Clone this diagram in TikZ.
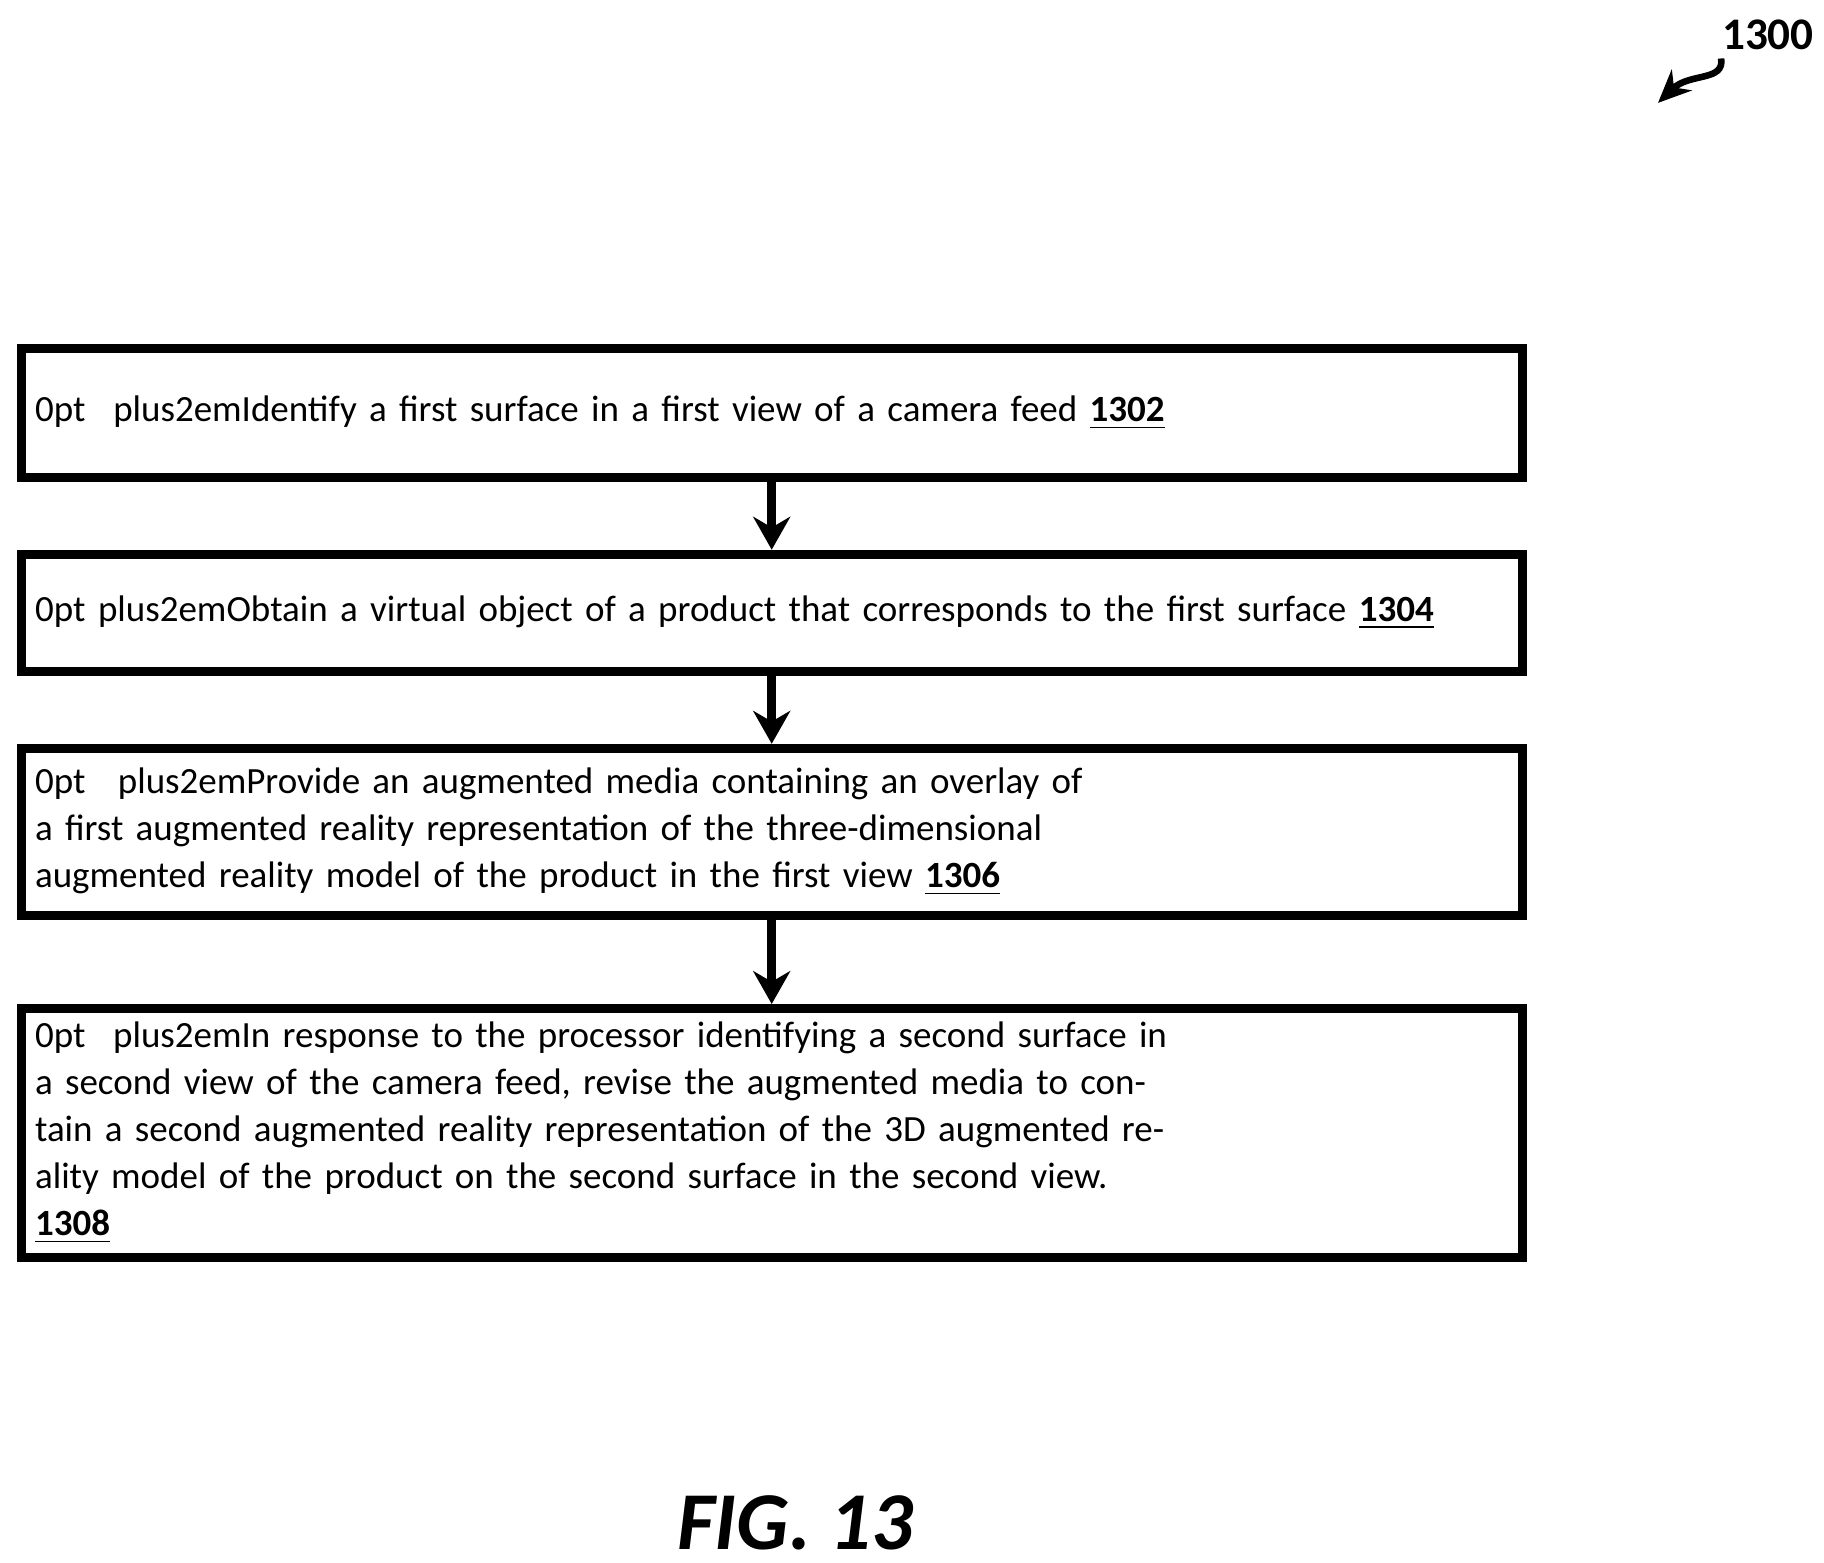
\documentclass[tikz,border=0pt]{standalone}
\usepackage{fontspec}
\setmainfont{Carlito}
\usetikzlibrary{arrows.meta,positioning}
\tikzset{stepbox/.style={draw, line width=2.2pt, minimum width=12.8cm, align=center, text width=12.6cm, font=\fontsize{9}{11.4}\selectfont\hyphenpenalty=10000\spaceskip=0.22em plus 0.1em minus 0.05em},
arrow/.style={line width=2.2pt,-{Stealth[length=8pt,width=9pt]}}}
\begin{document}
\begin{tikzpicture}
\useasboundingbox (0,0) rectangle (15.6,-13.36);
% steps
\node[stepbox, minimum height=1.1cm] (s1302) at (6.6,-3.53) {Identify a first surface in a first view of a camera feed \underline{\textbf{1302}}};
\node[stepbox, minimum height=1.0cm] (s1304) at (6.6,-5.24) {Obtain a virtual object of a product that corresponds to the first surface \underline{\textbf{1304}}};
\node[stepbox, minimum height=1.43cm] (s1306) at (6.6,-7.115) {Provide an augmented media containing an overlay of a first augmented reality representation of the three-dimensional augmented reality model of the product in the first view \underline{\textbf{1306}}};
\node[stepbox, minimum height=1.98cm] (s1308) at (6.6,-9.69) {In response to the processor identifying a second surface in a second view of the camera feed, revise the augmented media to contain a second augmented reality representation of the 3D augmented reality model of the product on the second surface in the second view.\\ \underline{\textbf{1308}}};
\draw[arrow] (s1302) -- (s1304);
\draw[arrow] (s1304) -- (s1306);
\draw[arrow] (s1306) -- (s1308);
% figure number
\node[font=\fontsize{11}{13}\selectfont\bfseries] (num) at (15.12,-0.3) {1300};
\coordinate (tip) at (14.18,-0.88);
\draw[line width=1.6pt,-{Stealth[length=8pt,width=7pt]}] (14.72,-0.5) .. controls (14.75,-0.7) and (14.45,-0.62) .. (tip);
\node[font=\fontsize{20}{24}\selectfont\bfseries\itshape] (fig) at (6.8,-13.02) {FIG. 13};
\end{tikzpicture}
\end{document}
